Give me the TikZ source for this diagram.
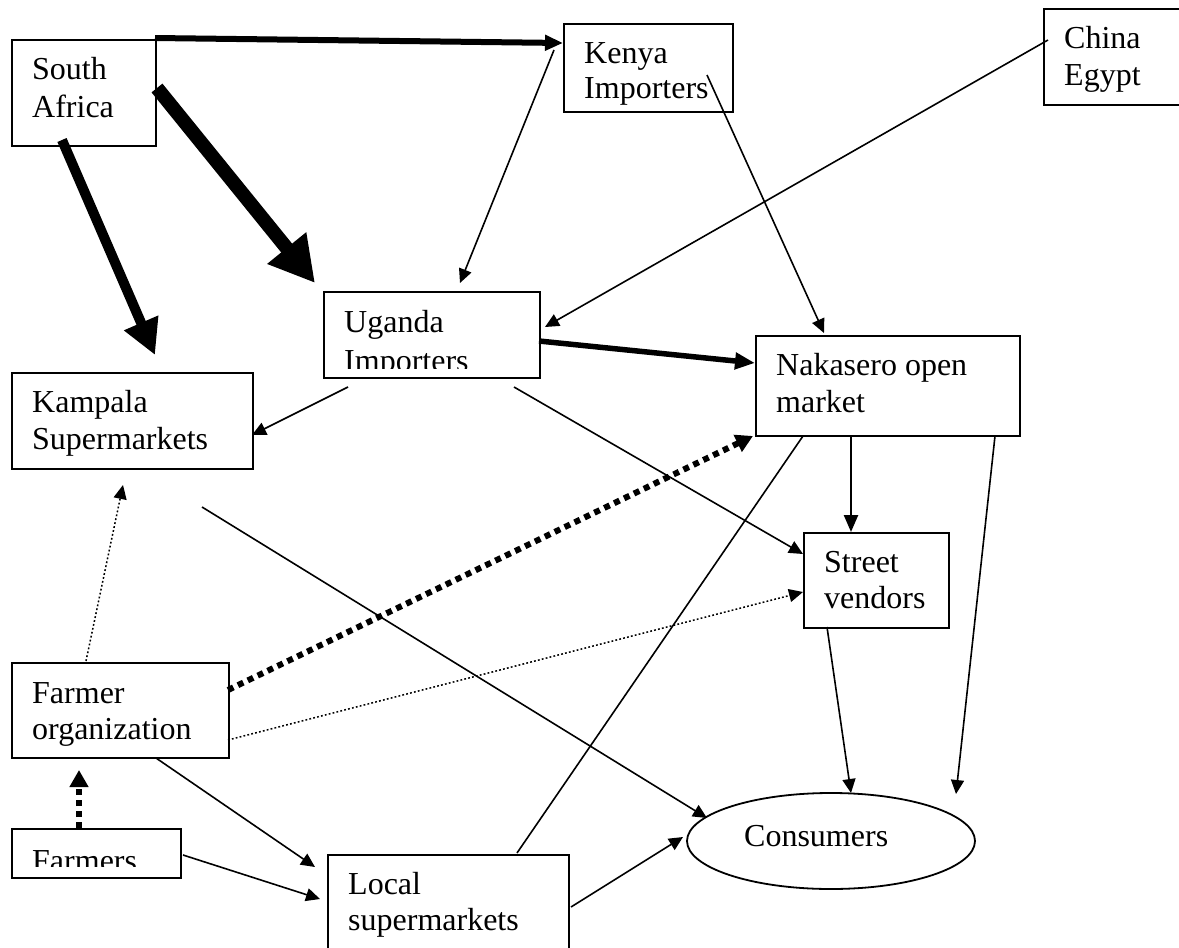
\documentclass[tikz,border=0pt]{standalone}
\usepackage{fontspec}
\setmainfont{Liberation Serif}
\usetikzlibrary{arrows.meta,calc,shapes.geometric}
\begin{document}
\begin{tikzpicture}[x=1pt,y=-1pt,
  box/.style={draw,line width=1.8pt,inner sep=0pt,anchor=north west},
  % labels are anchored on the baseline of their last line
  lbl/.style={anchor=base west,inner sep=0pt,align=left,
    font=\fontsize{32}{37}\selectfont},
  flow/.style={line width=1.6pt,-{Triangle[length=14pt,width=13pt]}},
  fine/.style={flow,line width=1.5pt,dash pattern=on 1.8pt off 2.2pt},
  heavydots/.style={line width=6pt,dash pattern=on 6pt off 5pt,
    -{Triangle[length=17pt,width=18pt]}},
  plainline/.style={line width=1.6pt}
]
\useasboundingbox (0,0) rectangle (1179,948);
\clip (0,0) rectangle (1179,948);

% boxes
\node[box,minimum width=144pt,minimum height=106pt] (sa) at (11,39) {};
\node[box,minimum width=169pt,minimum height=88pt]  (ke) at (563,23) {};
\node[box,minimum width=160pt,minimum height=96pt]  (ch) at (1043,8) {};
\node[box,minimum width=216pt,minimum height=86pt]  (ug) at (323,291) {};
\node[box,minimum width=241pt,minimum height=96pt]  (ka) at (11,372) {};
\node[box,minimum width=264pt,minimum height=100pt] (na) at (755,335) {};
\node[box,minimum width=145pt,minimum height=95pt]  (st) at (803,532) {};
\node[box,minimum width=217pt,minimum height=95pt]  (fo) at (11,662) {};
\node[box,minimum width=169pt,minimum height=49pt]  (fa) at (11,828) {};
\node[box,minimum width=241pt,minimum height=130pt] (lo) at (327,854) {};
\node[draw,ellipse,line width=1.8pt,inner sep=0pt,
      minimum width=288pt,minimum height=96pt] (cons) at (831,841) {};

% labels
\node[lbl,font=\fontsize{32}{38}\selectfont] (saT) at ($(sa.north west)+(21,78)$) {South\\Africa};
\node[lbl,font=\fontsize{32}{35}\selectfont] (keT) at ($(ke.north west)+(21,75)$) {Kenya\\Importers};
\node[lbl] (chT) at ($(ch.north west)+(21,77)$) {China\\Egypt};
\begin{scope}
  \clip (ug.north west) rectangle ($(ug.south east)+(0,-10)$);
  \node[lbl,font=\fontsize{32}{39}\selectfont] (ugT) at ($(ug.north west)+(21,80)$) {Uganda\\Importers};
\end{scope}
\node[lbl] (kaT) at ($(ka.north west)+(21,77)$) {Kampala\\Supermarkets};
\node[lbl] (naT) at ($(na.north west)+(21,77)$) {Nakasero open\\market};
\node[lbl,font=\fontsize{32}{36}\selectfont] (stT) at ($(st.north west)+(21,76)$) {Street\\vendors};
\node[lbl,font=\fontsize{32}{36}\selectfont] (foT) at ($(fo.north west)+(21,77)$) {Farmer\\organization};
\begin{scope}
  \clip (fa.north west) rectangle ($(fa.south east)+(0,-12)$);
  \node[lbl] (faT) at ($(fa.north west)+(21,43)$) {Farmers};
\end{scope}
\node[lbl,font=\fontsize{32}{36}\selectfont] (loT) at ($(lo.north west)+(21,76)$) {Local\\supermarkets};
\node[lbl] (consT) at (744,846) {Consumers};

% heavy import flows from South Africa
\draw[line width=6pt,-{Triangle[length=18pt,width=15pt]}]
  ($(sa.north west)+(144,-1)$) -- ($(ke.north west)+(0,20)$);
\draw[line width=14pt,-{Triangle[length=45pt,width=47pt]}]
  ($(sa.north west)+(146,49)$) -- ($(ug.north west)+(-8,-8)$);
\draw[line width=10pt,-{Triangle[length=35pt,width=35pt]}]
  ($(sa.north west)+(51,101)$) -- ($(ka.north west)+(144,-17)$);

% importers
\draw[flow] ($(ke.north west)+(-9,27)$) -- ($(ug.north west)+(137,-8)$);
\draw[flow] ($(ke.north west)+(144,52)$) -- ($(na.north west)+(69,-2)$);
\draw[flow] ($(ch.north west)+(5,32)$) -- ($(ug.north west)+(222,36)$);
\draw[line width=5.5pt,-{Triangle[length=20pt,width=16pt]}]
  ($(ug.north west)+(216,50)$) -- ($(na.north west)+(0,28)$);
\draw[flow] ($(ug.north west)+(25,96)$) -- ($(ka.north west)+(241,63)$);
\draw[flow] ($(ug.north west)+(191,96)$) -- ($(st.north west)+(0,22)$);

% retail
\draw[flow] ($(ka.north west)+(191,135)$) -- ($(cons.center)+(-124,-23)$);
\draw[line width=2.5pt,-{Triangle[length=17pt,width=14pt]}]
  ($(na.north west)+(96,101)$) -- ($(st.north west)+(48,0)$);
\draw[flow] ($(na.north west)+(240,101)$) -- ($(cons.center)+(125,-47)$);
\draw[flow] ($(st.north west)+(24,95)$) -- ($(cons.center)+(20,-48)$);
\draw[plainline] ($(lo.north west)+(190,-1)$) -- ($(na.north west)+(48,101)$);
\draw[flow] ($(lo.north west)+(244,53)$) -- ($(cons.center)+(-148,-4)$);

% farmers
\draw[fine] ($(fo.north west)+(75,-1)$) -- ($(ka.north west)+(112,113)$);
\draw[heavydots] ($(fo.north west)+(217,28)$) -- ($(na.north west)+(-2,101)$);
\draw[fine] ($(fo.north west)+(217,78)$) -- ($(st.north west)+(0,60)$);
\draw[flow] ($(fo.north west)+(145,96)$) -- ($(lo.north west)+(-12,13)$);
\draw[heavydots] ($(fa.north west)+(68,0)$) -- ($(fo.north west)+(68,108)$);
\draw[flow] ($(fa.north west)+(172,27)$) -- ($(lo.north west)+(-7,45)$);
\end{tikzpicture}
\end{document}
